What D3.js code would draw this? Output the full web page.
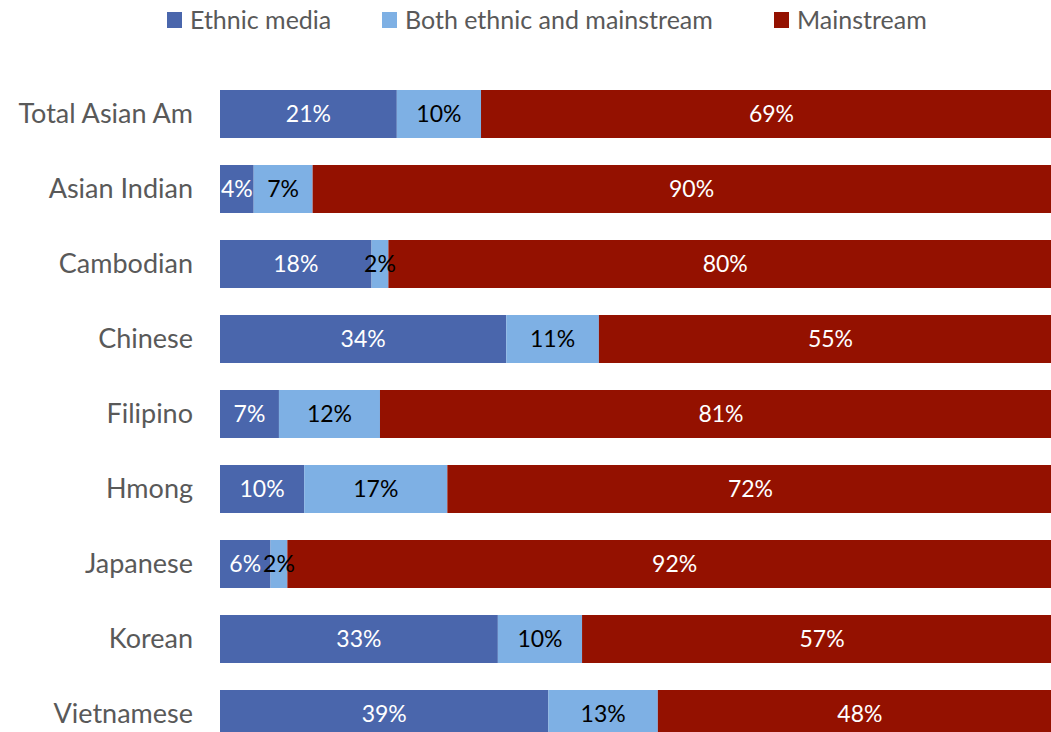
<!DOCTYPE html>
<html>
<head>
<meta charset="utf-8">
<script src="https://cdn.jsdelivr.net/npm/d3@7"></script>
<style>
  html, body { margin: 0; padding: 0; background: #fff; overflow: hidden; }
  svg { display: block; }
  text { font-family: "Lato", "Open Sans", sans-serif; }
</style>
</head>
<body>
<script>
// Media use by Asian American group (share of respondents)
const categories = ["Total Asian Am", "Asian Indian", "Cambodian", "Chinese", "Filipino", "Hmong", "Japanese", "Korean", "Vietnamese"];
const seriesNames = ["Ethnic media", "Both ethnic and mainstream", "Mainstream"];
const ethnicMedia = [21, 4, 18, 34, 7, 10, 6, 33, 39];
const bothMedia   = [10, 7, 2, 11, 12, 17, 2, 10, 13];
const mainstream  = [69, 90, 80, 55, 81, 72, 92, 57, 48];
const seriesColors = ["#4a66ac", "#7eb0e4", "#941100"];
const labelColors = ["#ffffff", "#000000", "#ffffff"];

const W = 1051, H = 732;
const svg = d3.select("body").append("svg").attr("width", W).attr("height", H);

const rows = categories.map((c, i) => ({
  category: c,
  "Ethnic media": ethnicMedia[i],
  "Both ethnic and mainstream": bothMedia[i],
  "Mainstream": mainstream[i]
}));

const stacked = d3.stack().keys(seriesNames)(rows);

// the plot runs a little past the right edge of the frame
const x = d3.scaleLinear().domain([0, 100]).range([220, 1062]);
const y = d3.scaleBand().domain(categories).range([90, 738]).paddingInner(0.36).paddingOuter(0);

// bars
const layers = svg.append("g").selectAll("g")
  .data(stacked).join("g")
  .attr("fill", (d, i) => seriesColors[i]);

layers.selectAll("rect")
  .data(d => d).join("rect")
  .attr("x", d => x(d[0]))
  .attr("y", d => y(d.data.category))
  .attr("width", d => x(d[1]) - x(d[0]))
  .attr("height", y.bandwidth());

// value labels
const labels = svg.append("g");
stacked.forEach((layer, si) => {
  labels.selectAll(null)
    .data(layer).join("text")
    .attr("x", d => (x(d[0]) + x(d[1])) / 2)
    .attr("y", d => y(d.data.category) + y.bandwidth() / 2)
    .attr("dy", "0.36em")
    .attr("text-anchor", "middle")
    .attr("fill", labelColors[si])
    .attr("font-size", 23)
    .text(d => (d[1] - d[0]) + "%");
});

// category axis
const yAxis = svg.append("g")
  .attr("transform", "translate(220,0)")
  .call(d3.axisLeft(y).tickSize(0).tickPadding(27));
yAxis.select(".domain").remove();
yAxis.selectAll("text")
  .attr("font-family", "Lato, 'Open Sans', sans-serif")
  .attr("font-size", 27)
  .attr("fill", "#595959");

// legend
const legendX = [167, 382, 774];
const legend = svg.append("g").selectAll("g")
  .data(seriesNames).join("g")
  .attr("transform", (d, i) => `translate(${legendX[i]},0)`);
legend.append("rect")
  .attr("x", 0).attr("y", 12).attr("width", 15).attr("height", 16)
  .attr("fill", (d, i) => seriesColors[i]);
legend.append("text")
  .attr("x", 23).attr("y", 20).attr("dy", "0.36em")
  .attr("font-size", 25)
  .attr("fill", "#595959")
  .text(d => d);
</script>
</body>
</html>
